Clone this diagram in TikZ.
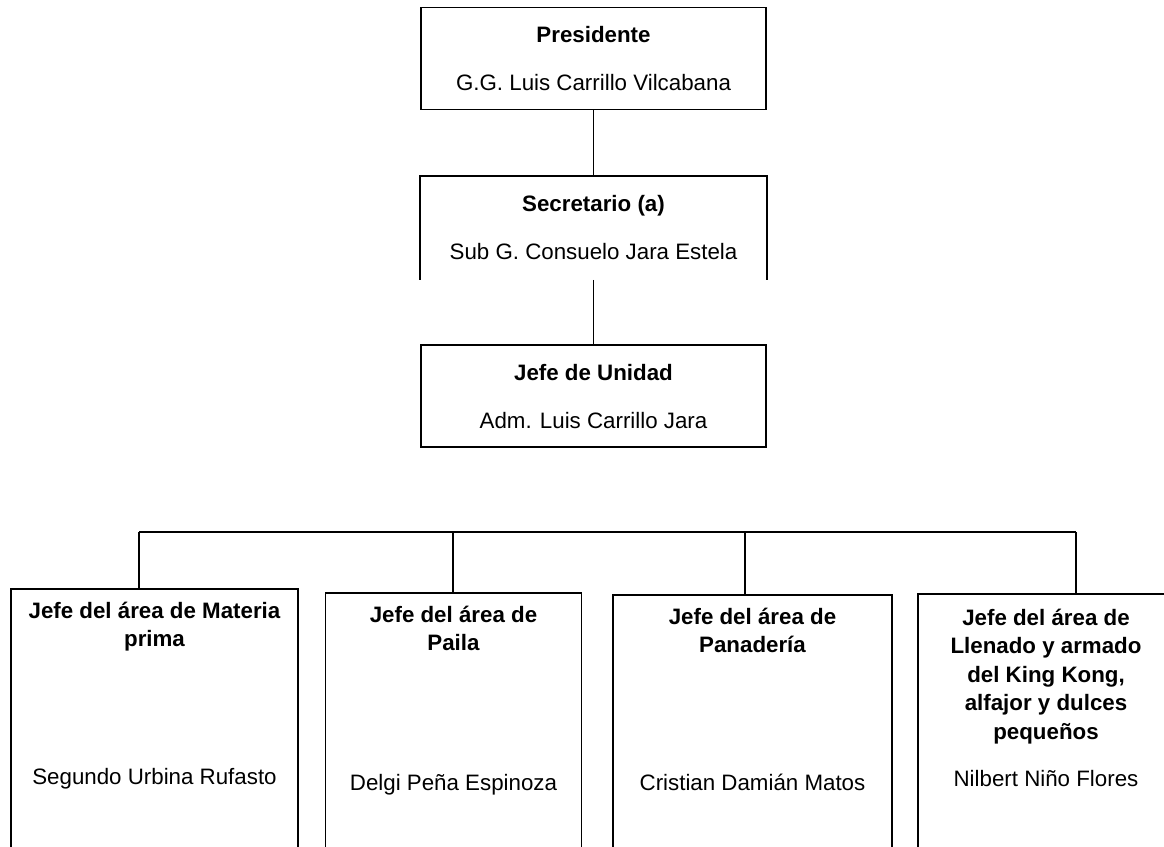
\documentclass[tikz,border=0pt]{standalone}
\usepackage{fontspec}
\setmainfont{Liberation Sans}
\usetikzlibrary{positioning}

\begin{document}
\begin{tikzpicture}[x = 0.02cm, y = -0.02cm, line width = 1.1pt,
  every node/.style = {font = \fontsize{12.7pt}{16.2pt}\selectfont},
  topbox/.style = {rectangle, draw, align = center, inner sep = 0pt,
    minimum width = 6.9cm, minimum height = 2.04cm},
  areabox/.style = {rectangle, draw, anchor = north, inner sep = 0pt,
    minimum height = 6cm},
  areahead/.style = {align = center, inner sep = 0pt, font =
    \fontsize{12.7pt}{16.2pt}\selectfont\bfseries},
  areaname/.style = {inner sep = 0pt}]
  \clip (0,0) rectangle (1164,846);

  \node [topbox] (pres) at (593.5,58.5) {\textbf{Presidente}\\[0.39cm]G.G.
  Luis Carrillo Vilcabana};
  \node [below of = pres, node distance = 3.39cm, topbox, draw = none] (sec)
  {\textbf{Secretario (a)}\\[0.39cm]Sub G. Consuelo Jara Estela};
  \node [below of = sec, node distance = 3.37cm, topbox] (jefe)
  {\textbf{Jefe de Unidad}\\[0.39cm]Adm. Luis Carrillo Jara};
  \draw (sec.south west) -- (sec.north west) -- (sec.north east) --
  (sec.south east);
  \draw (pres.south) -- (pres.south |- sec.north);
  \draw (sec.south) -- (jefe.north);

  \node [areabox, minimum width = 5.74cm] (m1) at (154.5,588) {};
  \node [areabox, minimum width = 5.12cm] (m2) at (453.5,592) {};
  \node [areabox, minimum width = 5.58cm] (m3) at (752.5,594) {};
  \node [areabox, minimum width = 5.12cm] (m4) at (1046,593) {};

  \node [areahead, below = 0.26cm of m1.north] (h1) {Jefe del área de
  Materia\\prima};
  \node [areahead, below = 0.26cm of m2.north] (h2) {Jefe del área
  de\\Paila};
  \node [areahead, below = 0.26cm of m3.north] (h3) {Jefe del área
  de\\Panadería};
  \node [areahead, below = 0.3cm of m4.north] (h4) {Jefe del área de\\Llenado
  y armado\\del King Kong,\\alfajor y dulces\\pequeños};

  \node [areaname, below = 3.58cm of m1.north] (n1) {Segundo Urbina Rufasto};
  \node [areaname, below = 3.62cm of m2.north] (n2) {Delgi Peña Espinoza};
  \node [areaname, below = 3.58cm of m3.north] (n3) {Cristian Damián Matos};
  \node [areaname, below = 3.52cm of m4.north] (n4) {Nilbert Niño Flores};

  \coordinate (t1) at (139,532);
  \coordinate (t2) at (453,532);
  \coordinate (t3) at (745,532);
  \coordinate (t4) at (1076,532);
  \draw (t1) -- (t4);
  \foreach \i in {1,...,4}
    \draw (t\i) -- (t\i |- m\i.north);
\end{tikzpicture}
\end{document}
